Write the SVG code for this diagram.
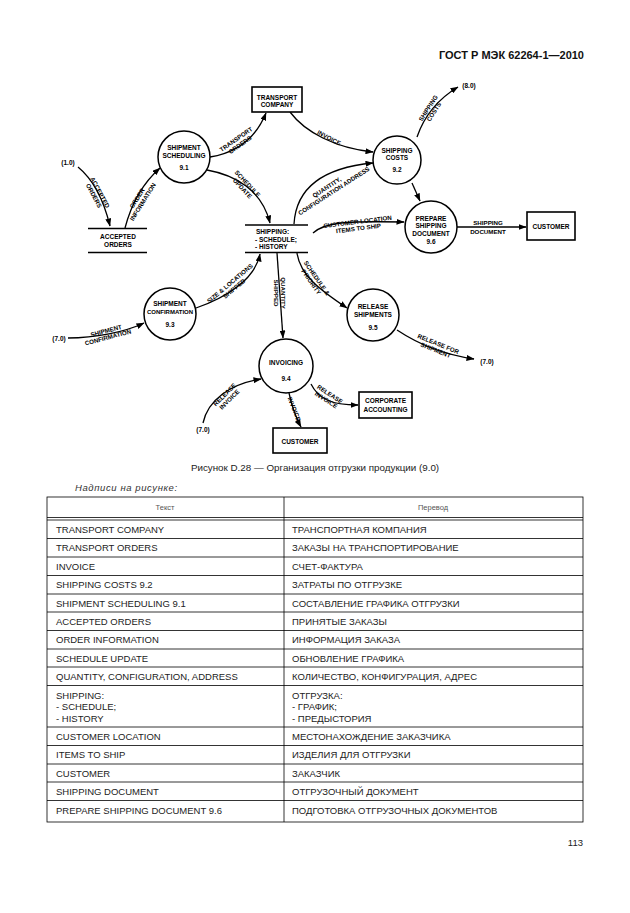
<svg xmlns="http://www.w3.org/2000/svg" width="630" height="913" viewBox="0 0 630 913">
<style>
.bg{fill:#fff}
.cir{fill:#fff;stroke:#000;stroke-width:1.5}
.box{fill:#fff;stroke:#000;stroke-width:1.6}
.st{stroke:#000;stroke-width:1.5}
.nt{font-family:"Liberation Sans",Arial,sans-serif;font-weight:bold;font-size:6.5px;text-anchor:middle;fill:#000}
.lt{font-family:"Liberation Sans",Arial,sans-serif;font-weight:bold;font-size:6.2px;text-anchor:middle;fill:#000}
.conn path{fill:none;stroke:#000;stroke-width:1.3;marker-end:url(#ah)}
.tl{stroke:#000;stroke-width:0.8;fill:none}
.tt{font-family:"Liberation Sans",Arial,sans-serif;font-size:9.5px;fill:#222}
.th{font-family:"Liberation Sans",Arial,sans-serif;font-size:7.5px;fill:#555;text-anchor:middle}
</style>
<defs>
<marker id="ah" markerUnits="userSpaceOnUse" markerWidth="8" markerHeight="6" refX="7.5" refY="3" orient="auto">
<path d="M0,0 L8,3 L0,6 z" fill="#000"/>
</marker>
</defs>
<rect class="bg" x="0" y="0" width="630" height="913"/>

<text x="584" y="58.5" font-family="Liberation Sans,Arial,sans-serif" font-weight="bold" font-size="11" text-anchor="end" fill="#111">ГОСТ Р МЭК 62264-1—2010</text>

<g id="connectors" class="conn">
<path d="M78,167 Q100,185 110,226"/>
<path d="M125,228 Q135,190 160,168"/>
<path d="M210,157 C235,153 255,140 266,113"/>
<path d="M290,112 C305,132 335,148 373,152"/>
<path d="M207,170 C235,175 262,190 270,223"/>
<path d="M294,224 C296,190 320,168 373,163"/>
<path d="M417,137 Q428,105 458,87"/>
<path d="M412,183 L420,201"/>
<path d="M313,233 C325,222 345,221 404,222"/>
<path d="M457,227 L526,227"/>
<path d="M68,338 C95,338 125,332 144,323"/>
<path d="M196,308 C225,298 255,280 260,254"/>
<path d="M277,253 L283,338"/>
<path d="M297,253 C300,275 320,290 347,308"/>
<path d="M397,330 C415,342 440,354 474,359"/>
<path d="M203,423 C208,400 230,384 261,379"/>
<path d="M289,393 Q293,412 301,427"/>
<path d="M311,384 C318,398 330,405 358,405"/>
</g>

<g id="connector-labels">
<text class="lt" transform="translate(97,194) rotate(62)"><tspan x="0" y="-1.2">ACCEPTED</tspan><tspan x="0" y="5.6">ORDERS</tspan></text>
<text class="lt" transform="translate(140,200) rotate(-58)"><tspan x="0" y="-1.2">ORDER</tspan><tspan x="0" y="5.6">INFORMATION</tspan></text>
<text class="lt" transform="translate(238,142) rotate(-35)"><tspan x="0" y="-1.2">TRANSPORT</tspan><tspan x="0" y="5.6">ORDERS</tspan></text>
<text class="lt" transform="translate(329,138) rotate(28)"><tspan x="0" y="2">INVOICE</tspan></text>
<text class="lt" transform="translate(245,186) rotate(47)"><tspan x="0" y="-1.2">SCHEDULE</tspan><tspan x="0" y="5.6">UPDATE</tspan></text>
<text class="lt" transform="translate(332,188) rotate(-33)"><tspan x="-4" y="-1.2">QUANTITY,</tspan><tspan x="0" y="5.6">CONFIGURATION ADDRESS</tspan></text>
<text class="lt" transform="translate(431,110) rotate(-57)"><tspan x="0" y="-1.2">SHIPPING</tspan><tspan x="0" y="5.6">COSTS</tspan></text>
<text class="lt" transform="translate(358,225) rotate(-7)"><tspan x="0" y="-1.2">CUSTOMER LOCATION</tspan><tspan x="0" y="5.6">ITEMS TO SHIP</tspan></text>
<text class="lt"><tspan x="488" y="224.5">SHIPPING</tspan><tspan x="488" y="234">DOCUMENT</tspan></text>
<text class="lt" transform="translate(107,334) rotate(-15)"><tspan x="0" y="-1.2">SHIPMENT</tspan><tspan x="0" y="5.6">CONFIRMATION</tspan></text>
<text class="lt" transform="translate(232,286) rotate(-40)"><tspan x="0" y="-1.2">SIZE &amp; LOCATIONS</tspan><tspan x="0" y="5.6">SHIPPED</tspan></text>
<text class="lt" transform="translate(280,293) rotate(90)"><tspan x="0" y="-1.2">QUANTITY</tspan><tspan x="0" y="5.6">SHIPPED</tspan></text>
<text class="lt" transform="translate(314,280) rotate(55)"><tspan x="0" y="-1.2">SCHEDULE &amp;</tspan><tspan x="0" y="5.6">PRIORITY</tspan></text>
<text class="lt" transform="translate(437,347) rotate(22)"><tspan x="0" y="-1.2">RELEASE FOR</tspan><tspan x="0" y="5.6">SHIPMENT</tspan></text>
<text class="lt" transform="translate(227,397) rotate(-45)"><tspan x="0" y="-1.2">RELEASE</tspan><tspan x="0" y="5.6">INVOICE</tspan></text>
<text class="lt" transform="translate(294,409) rotate(68)"><tspan x="0" y="2">INVOICE</tspan></text>
<text class="lt" transform="translate(328,397) rotate(33)"><tspan x="0" y="-1.2">RELEASE</tspan><tspan x="0" y="5.6">INVOICE</tspan></text>
</g>

<g id="ext-1-0"><text class="nt" x="68" y="165">(1.0)</text></g>
<g id="ext-8-0"><text class="nt" x="469" y="88">(8.0)</text></g>
<g id="ext-7-0-a"><text class="nt" x="59" y="340.5">(7.0)</text></g>
<g id="ext-7-0-b"><text class="nt" x="487" y="363.5">(7.0)</text></g>
<g id="ext-7-0-c"><text class="nt" x="203" y="432">(7.0)</text></g>

<g id="transport-company">
<rect class="box" x="252" y="87" width="50" height="25"/>
<text class="nt" font-size="6"><tspan x="277" y="100">TRANSPORT</tspan><tspan x="277" y="106.5">COMPANY</tspan></text>
</g>

<g id="shipment-scheduling">
<circle class="cir" cx="184" cy="157" r="26"/>
<text class="nt"><tspan x="184" y="149.5">SHIPMENT</tspan><tspan x="184" y="158">SCHEDULING</tspan><tspan x="184" y="170">9.1</tspan></text>
</g>

<g id="accepted-orders">
<line class="st" x1="88" y1="228.5" x2="147" y2="228.5"/>
<line class="st" x1="88" y1="252.5" x2="147" y2="252.5"/>
<text class="nt" font-size="6.2"><tspan x="118" y="239">ACCEPTED</tspan><tspan x="118" y="246.5">ORDERS</tspan></text>
</g>

<g id="shipping-store">
<line class="st" x1="245" y1="225" x2="308" y2="225"/>
<line class="st" x1="245" y1="252.5" x2="308" y2="252.5"/>
<text class="nt" style="text-anchor:start"><tspan x="256" y="234">SHIPPING:</tspan><tspan x="255" y="242">- SCHEDULE;</tspan><tspan x="255" y="249">- HISTORY</tspan></text>
</g>

<g id="shipping-costs">
<circle class="cir" cx="397" cy="160" r="24"/>
<text class="nt"><tspan x="397" y="153">SHIPPING</tspan><tspan x="397" y="159.5">COSTS</tspan><tspan x="397" y="172">9.2</tspan></text>
</g>

<g id="prepare-shipping-document">
<circle class="cir" cx="431" cy="227" r="26"/>
<text class="nt"><tspan x="431" y="220.5">PREPARE</tspan><tspan x="431" y="228">SHIPPING</tspan><tspan x="431" y="235.5">DOCUMENT</tspan><tspan x="431" y="244">9.6</tspan></text>
</g>

<g id="customer-right">
<rect class="box" x="527" y="212" width="48" height="28"/>
<text class="nt" font-size="6.2" x="551" y="229">CUSTOMER</text>
</g>

<g id="shipment-confirmation">
<circle class="cir" cx="170" cy="314" r="26"/>
<text class="nt"><tspan x="170" y="306">SHIPMENT</tspan><tspan x="170" y="314" font-size="6">CONFIRMATION</tspan><tspan x="170" y="327">9.3</tspan></text>
</g>

<g id="release-shipments">
<circle class="cir" cx="373" cy="315" r="26"/>
<text class="nt"><tspan x="373" y="309">RELEASE</tspan><tspan x="373" y="317">SHIPMENTS</tspan><tspan x="373" y="329.5">9.5</tspan></text>
</g>

<g id="invoicing">
<circle class="cir" cx="286" cy="366" r="27"/>
<text class="nt"><tspan x="286" y="364.5">INVOICING</tspan><tspan x="286" y="380.5">9.4</tspan></text>
</g>

<g id="customer-bottom">
<rect class="box" x="273" y="428" width="54" height="25"/>
<text class="nt" font-size="6.2" x="300" y="444">CUSTOMER</text>
</g>

<g id="corporate-accounting">
<rect class="box" x="359" y="392" width="53" height="26"/>
<text class="nt" font-size="6.2"><tspan x="385.5" y="403">CORPORATE</tspan><tspan x="385.5" y="412">ACCOUNTING</tspan></text>
</g>

<text x="315" y="471" font-family="Liberation Sans,Arial,sans-serif" font-size="9.8" text-anchor="middle" fill="#222">Рисунок D.28 — Организация отгрузки продукции (9.0)</text>
<text x="75" y="491" font-family="Liberation Sans,Arial,sans-serif" font-size="9.5" letter-spacing="0.6" font-style="italic" fill="#333">Надписи на рисунке:</text>

<g id="table">
<rect class="tl" x="47" y="497" width="536" height="325"/>
<line class="tl" x1="284" y1="497" x2="284" y2="822"/>
<line class="tl" x1="47" y1="517.5" x2="583" y2="517.5"/>
<line class="tl" x1="47" y1="520" x2="583" y2="520"/>
<line class="tl" x1="47" y1="538.5" x2="583" y2="538.5"/>
<line class="tl" x1="47" y1="557" x2="583" y2="557"/>
<line class="tl" x1="47" y1="575.5" x2="583" y2="575.5"/>
<line class="tl" x1="47" y1="594" x2="583" y2="594"/>
<line class="tl" x1="47" y1="612" x2="583" y2="612"/>
<line class="tl" x1="47" y1="630.5" x2="583" y2="630.5"/>
<line class="tl" x1="47" y1="649" x2="583" y2="649"/>
<line class="tl" x1="47" y1="667" x2="583" y2="667"/>
<line class="tl" x1="47" y1="685.5" x2="583" y2="685.5"/>
<line class="tl" x1="47" y1="727" x2="583" y2="727"/>
<line class="tl" x1="47" y1="745.5" x2="583" y2="745.5"/>
<line class="tl" x1="47" y1="764" x2="583" y2="764"/>
<line class="tl" x1="47" y1="782" x2="583" y2="782"/>
<line class="tl" x1="47" y1="800.5" x2="583" y2="800.5"/>
<text class="th" x="165" y="510">Текст</text>
<text class="th" x="433" y="510">Перевод</text>
<g class="tt">
<text x="56" y="532.5">TRANSPORT COMPANY</text><text x="292" y="532.5">ТРАНСПОРТНАЯ КОМПАНИЯ</text>
<text x="56" y="551">TRANSPORT ORDERS</text><text x="292" y="551">ЗАКАЗЫ НА ТРАНСПОРТИРОВАНИЕ</text>
<text x="56" y="569.5">INVOICE</text><text x="292" y="569.5">СЧЕТ-ФАКТУРА</text>
<text x="56" y="588">SHIPPING COSTS 9.2</text><text x="292" y="588">ЗАТРАТЫ ПО ОТГРУЗКЕ</text>
<text x="56" y="606.5">SHIPMENT SCHEDULING 9.1</text><text x="292" y="606.5">СОСТАВЛЕНИЕ ГРАФИКА ОТГРУЗКИ</text>
<text x="56" y="624.5">ACCEPTED ORDERS</text><text x="292" y="624.5">ПРИНЯТЫЕ ЗАКАЗЫ</text>
<text x="56" y="643">ORDER INFORMATION</text><text x="292" y="643">ИНФОРМАЦИЯ ЗАКАЗА</text>
<text x="56" y="661.5">SCHEDULE UPDATE</text><text x="292" y="661.5">ОБНОВЛЕНИЕ ГРАФИКА</text>
<text x="56" y="679.5">QUANTITY, CONFIGURATION, ADDRESS</text><text x="292" y="679.5">КОЛИЧЕСТВО, КОНФИГУРАЦИЯ, АДРЕС</text>
<text x="56" y="698.5">SHIPPING:</text><text x="292" y="698.5">ОТГРУЗКА:</text>
<text x="56" y="710">- SCHEDULE;</text><text x="292" y="710">- ГРАФИК;</text>
<text x="56" y="721.5">- HISTORY</text><text x="292" y="721.5">- ПРЕДЫСТОРИЯ</text>
<text x="56" y="739.5">CUSTOMER LOCATION</text><text x="292" y="739.5">МЕСТОНАХОЖДЕНИЕ ЗАКАЗЧИКА</text>
<text x="56" y="758">ITEMS TO SHIP</text><text x="292" y="758">ИЗДЕЛИЯ ДЛЯ ОТГРУЗКИ</text>
<text x="56" y="776.5">CUSTOMER</text><text x="292" y="776.5">ЗАКАЗЧИК</text>
<text x="56" y="794.5">SHIPPING DOCUMENT</text><text x="292" y="794.5">ОТГРУЗОЧНЫЙ ДОКУМЕНТ</text>
<text x="56" y="813.5">PREPARE SHIPPING DOCUMENT 9.6</text><text x="292" y="813.5">ПОДГОТОВКА ОТГРУЗОЧНЫХ ДОКУМЕНТОВ</text>
</g>
</g>

<text x="583" y="846" font-family="Liberation Sans,Arial,sans-serif" font-size="9.5" text-anchor="end" fill="#222">113</text>
</svg>
